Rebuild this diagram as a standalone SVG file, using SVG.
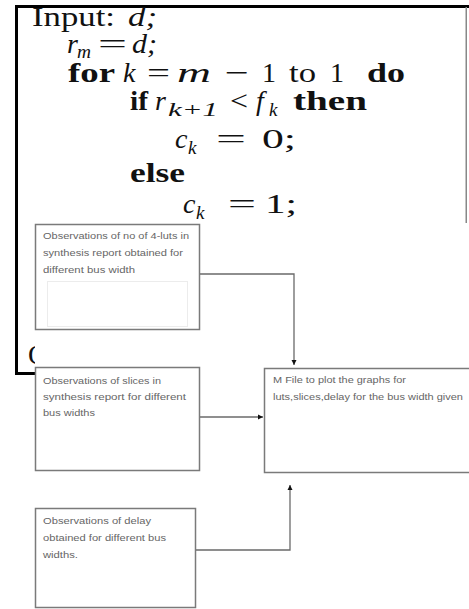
<svg xmlns="http://www.w3.org/2000/svg" width="469" height="609" viewBox="0 0 469 609">
<style>
.m{font-family:"Liberation Serif",serif;font-size:28px;fill:#111}
.i{font-style:italic}
.b{font-weight:bold}
.s{font-family:"Liberation Serif",serif;font-size:19px;font-style:italic;fill:#111}
.box{fill:#fff;stroke:#7a7a7a;stroke-width:1.5}
.t{font-family:"Liberation Sans",sans-serif;font-size:9px;fill:#666}
.c{fill:none;stroke:#6a6a6a;stroke-width:1.3}
</style>
<defs>
<marker id="a" markerWidth="6" markerHeight="6" refX="5" refY="3" orient="auto" markerUnits="userSpaceOnUse">
<path d="M0,0.5 L5,3 L0,5.5 Z" fill="#111"/>
</marker>
</defs>
<rect width="469" height="609" fill="#fff"/>
<g id="listing">
<rect x="15" y="5" width="454" height="3" fill="#000"/>
<rect x="15" y="5" width="3" height="370" fill="#000"/>
<rect x="465.5" y="7" width="1.5" height="216" fill="#888"/>
<rect x="15" y="372" width="25" height="3" fill="#000"/>
<text class="m" x="32" y="26" textLength="83" lengthAdjust="spacingAndGlyphs">Input:</text>
<text class="m i" x="128" y="26" textLength="29" lengthAdjust="spacingAndGlyphs">d;</text>
<text class="m i" x="67" y="53">r</text>
<text class="s" x="77" y="58" textLength="14" lengthAdjust="spacingAndGlyphs">m</text>
<text class="m" x="98" y="53" textLength="29" lengthAdjust="spacingAndGlyphs">=</text>
<text class="m i" x="132" y="53" textLength="25" lengthAdjust="spacingAndGlyphs">d;</text>
<text class="m b" x="68" y="82" textLength="47" lengthAdjust="spacingAndGlyphs">for</text>
<text class="m i" x="123" y="82">k</text>
<text class="m" x="147" y="82" textLength="23" lengthAdjust="spacingAndGlyphs">=</text>
<text class="m i" x="177" y="82" textLength="34" lengthAdjust="spacingAndGlyphs">m</text>
<text class="m" x="225" y="82" textLength="24" lengthAdjust="spacingAndGlyphs">−</text>
<text class="m" x="262" y="82">1</text>
<text class="m" x="289" y="82" textLength="27" lengthAdjust="spacingAndGlyphs">to</text>
<text class="m" x="330" y="82">1</text>
<text class="m b" x="367" y="82" textLength="38" lengthAdjust="spacingAndGlyphs">do</text>
<text class="m b" x="130" y="110" textLength="18" lengthAdjust="spacingAndGlyphs">if</text>
<text class="m i" x="155" y="110">r</text>
<text class="s" x="168" y="116" textLength="50" lengthAdjust="spacingAndGlyphs">k+1</text>
<text class="m" x="230" y="110" textLength="18" lengthAdjust="spacingAndGlyphs">&lt;</text>
<text class="m i" x="256" y="110">f</text>
<text class="s" x="269" y="116">k</text>
<text class="m b" x="293" y="110" textLength="74" lengthAdjust="spacingAndGlyphs">then</text>
<text class="m i" x="175" y="148">c</text>
<text class="s" x="188" y="154">k</text>
<text class="m" x="216" y="148" textLength="30" lengthAdjust="spacingAndGlyphs">=</text>
<text class="m" x="262" y="148" textLength="34" lengthAdjust="spacingAndGlyphs">0;</text>
<text class="m b" x="130" y="182" textLength="55" lengthAdjust="spacingAndGlyphs">else</text>
<text class="m i" x="183" y="213">c</text>
<text class="s" x="196" y="219">k</text>
<text class="m" x="228" y="213" textLength="28" lengthAdjust="spacingAndGlyphs">=</text>
<text class="m" x="265" y="213" textLength="32" lengthAdjust="spacingAndGlyphs">1;</text>
<text class="m" x="28" y="364">O</text>
</g>
<rect x="35" y="223" width="434" height="386" fill="#fff"/>
<g id="connectors">
<path class="c" d="M200,274 H294 V365" marker-end="url(#a)"/>
<path class="c" d="M200,417 H263" marker-end="url(#a)"/>
<path class="c" d="M196,550 H290 V485" marker-end="url(#a)"/>
</g>
<g id="luts">
<rect class="box" x="35.5" y="224.5" width="164" height="105"/>
<rect x="47.5" y="281.5" width="140" height="45" fill="none" stroke="#ececec" stroke-width="1"/>
<text class="t" x="43" y="239" textLength="146" lengthAdjust="spacingAndGlyphs">Observations of no of 4-luts in</text>
<text class="t" x="43" y="256" textLength="140" lengthAdjust="spacingAndGlyphs">synthesis report obtained for</text>
<text class="t" x="43" y="273" textLength="92" lengthAdjust="spacingAndGlyphs">different bus width</text>
</g>
<g id="slices">
<rect class="box" x="35.5" y="367.5" width="164" height="103"/>
<text class="t" x="43" y="384" textLength="118" lengthAdjust="spacingAndGlyphs">Observations of slices in</text>
<text class="t" x="43" y="400" textLength="143" lengthAdjust="spacingAndGlyphs">synthesis report for different</text>
<text class="t" x="43" y="416" textLength="52" lengthAdjust="spacingAndGlyphs">bus widths</text>
</g>
<g id="delay">
<rect class="box" x="35.5" y="508.5" width="160" height="99"/>
<text class="t" x="43" y="524" textLength="108" lengthAdjust="spacingAndGlyphs">Observations of delay</text>
<text class="t" x="43" y="541" textLength="123" lengthAdjust="spacingAndGlyphs">obtained for different bus</text>
<text class="t" x="43" y="558" textLength="35" lengthAdjust="spacingAndGlyphs">widths.</text>
</g>
<g id="mfile">
<rect class="box" x="264.5" y="368.5" width="210" height="104"/>
<text class="t" x="273" y="383" textLength="133" lengthAdjust="spacingAndGlyphs">M File to plot the graphs for</text>
<text class="t" x="273" y="400" textLength="190" lengthAdjust="spacingAndGlyphs">luts,slices,delay for the bus width given</text>
</g>
</svg>
